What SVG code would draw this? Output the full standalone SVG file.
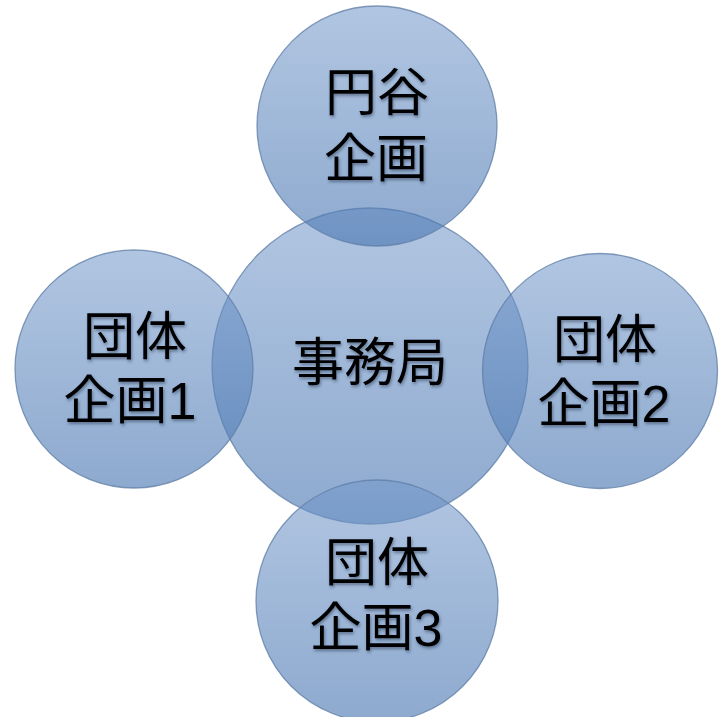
<svg xmlns="http://www.w3.org/2000/svg" width="719" height="717" viewBox="0 0 719 717">
<defs>
<linearGradient id="g" x1="0" y1="0" x2="0" y2="1">
<stop offset="0" stop-color="#7398ca" stop-opacity="0.56"/>
<stop offset="1" stop-color="#4a77b2" stop-opacity="0.63"/>
</linearGradient>
<filter id="sh" x="-10%" y="-10%" width="120%" height="130%">
<feDropShadow dx="1" dy="2" stdDeviation="1.6" flood-color="#1e2d45" flood-opacity="0.5"/>
</filter>
</defs>
<style>
.c{fill:url(#g);stroke:#5d7ca6;stroke-opacity:0.75;stroke-width:1.3}
.t{font-family:"Liberation Sans","Noto Sans CJK JP","Noto Sans CJK SC",sans-serif;font-size:52px;fill:#000;text-anchor:middle;filter:url(#sh)}
</style>
<rect width="719" height="717" fill="#fff"/>
<g id="center">
<circle class="c" cx="370" cy="366" r="158"/>
<text class="t" x="370" y="381">事務局</text>
</g>
<g id="top">
<circle class="c" cx="377" cy="126" r="120"/>
<text class="t" x="377" y="111">円谷</text>
<text class="t" x="376" y="177">企画</text>
</g>
<g id="left">
<circle class="c" cx="134" cy="369" r="119"/>
<text class="t" x="135" y="355">団体</text>
<text class="t" x="130" y="419">企画1</text>
</g>
<g id="right">
<circle class="c" cx="600" cy="371" r="117.5"/>
<text class="t" x="605" y="358">団体</text>
<text class="t" x="604" y="422">企画2</text>
</g>
<g id="bottom">
<circle class="c" cx="377" cy="601" r="121"/>
<text class="t" x="377" y="581">団体</text>
<text class="t" x="376" y="646">企画3</text>
</g>
</svg>
